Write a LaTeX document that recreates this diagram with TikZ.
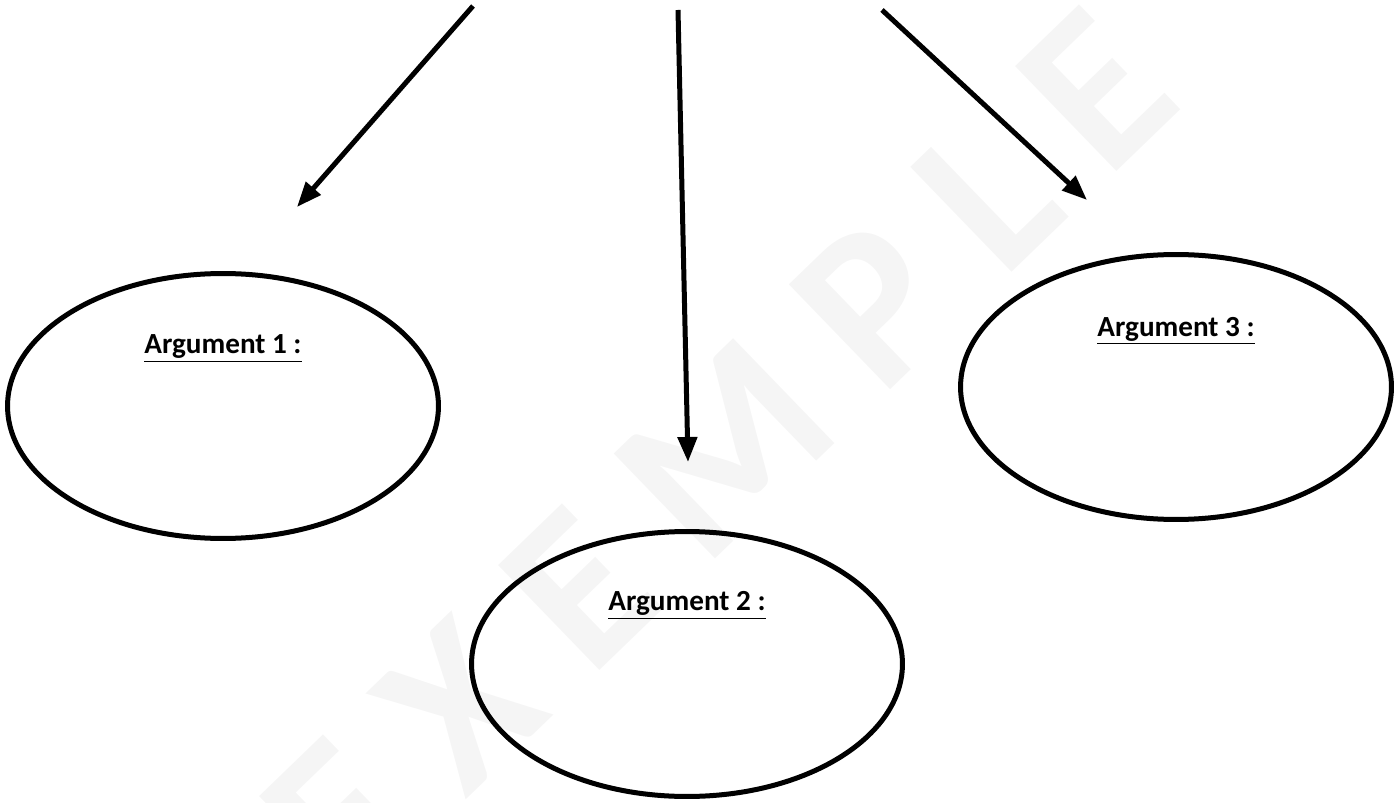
\documentclass[tikz,border=0pt]{standalone}
\usepackage{fontspec}
\setmainfont{Carlito}
\usepackage{tikz}
\usetikzlibrary{positioning, arrows.meta, shapes.geometric}

\begin{document}
\begin{tikzpicture}[
        x=0.02cm, y=-0.02cm,
        argbox/.style={ellipse, draw=black, line width=0.1cm, minimum width=8.62cm, minimum height=5.3cm, inner sep=0pt},
        argtext/.style={anchor=base, inner sep=0pt, font=\fontsize{16.6}{19}\selectfont\bfseries},
        watermark/.style={rotate=44, text=black!4, font=\fontsize{128}{128}\selectfont\bfseries\addfontfeature{LetterSpace=22}},
        arrow/.style={-{Triangle[length=0.5cm, width=0.38cm]}, line width=0.1cm}
    ]
    \useasboundingbox (0,0) rectangle (1398,803);
    \node[watermark] (wm) at (718,455) {EXEMPLE};

    \node[argbox] (arg1) at (223,406) {};
    \node[argbox] (arg2) at (687,664) {};
    \node[argbox] (arg3) at (1176,387) {};

    \node[argtext] (lab1) at ([yshift=1.05cm]arg1.center) {\underline{Argument 1 :}};
    \node[argtext] (lab2) at ([yshift=1.07cm]arg2.center) {\underline{Argument 2 :}};
    \node[argtext] (lab3) at ([yshift=1.02cm]arg3.center) {\underline{Argument 3 :}};

    \coordinate (s1) at (473,6);
    \coordinate (e1) at (297,207);
    \coordinate (s2) at (678,10);
    \coordinate (e2) at (688,462);
    \coordinate (s3) at (882,10);
    \coordinate (e3) at (1087,200);

    \draw[arrow] (s1) -- (e1);
    \draw[arrow] (s2) -- (e2);
    \draw[arrow] (s3) -- (e3);
\end{tikzpicture}
\end{document}
